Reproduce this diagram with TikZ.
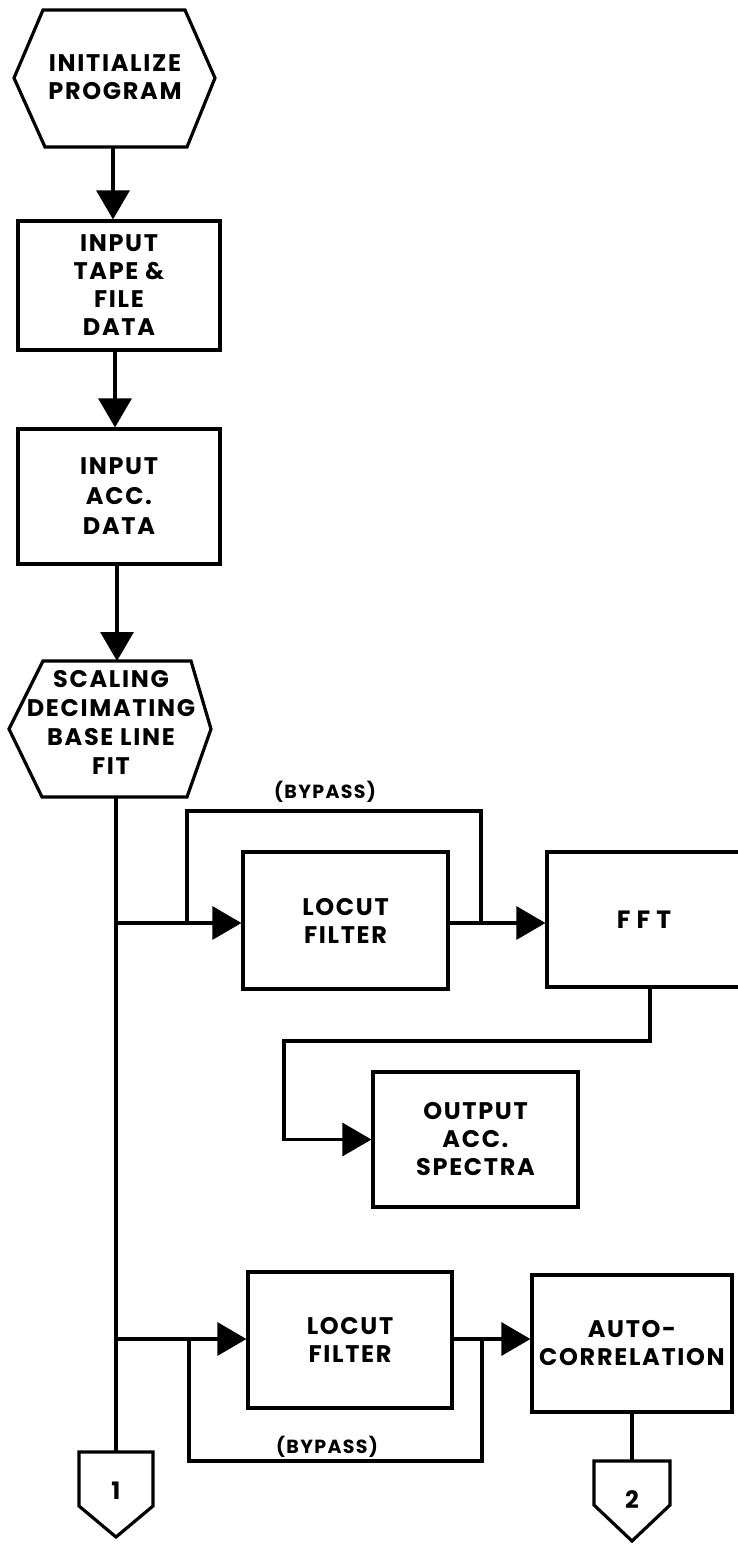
\documentclass[tikz,border=0pt]{standalone}
\usepackage{fontspec}
\usetikzlibrary{arrows.meta}
\newfontfamily\lfont{Poppins}[LetterSpace=7]
\newfontfamily\lfontwide{Poppins}[LetterSpace=24]
\begin{document}
\begin{tikzpicture}[x=1pt,y=-1pt,line width=3.2pt,line join=miter,
  lbl/.style={font=\lfont\bfseries\fontsize{24}{28}\selectfont,align=center,inner sep=0pt},
  box/.style={draw,rectangle,lbl},
  small/.style={font=\lfont\bfseries\fontsize{19}{22}\selectfont,inner sep=0pt},
  arr/.style={-{Triangle[length=29pt,width=33pt]}}]
\path[use as bounding box] (0,0) rectangle (738,1544);
\clip (0,0) rectangle (738,1544);
% start hexagon
\node[lbl] (h1) at (115,77) {INITIALIZE\\PROGRAM};
\draw (43,10) -- (185,10) -- (215,78) -- (187,147) -- (45,147) -- (14,78) -- cycle;
\coordinate (h1b) at (113,147);
% boxes
\node[box,minimum width=202pt,minimum height=129pt] (b2) at (119,285.5) {INPUT\\TAPE \&\\FILE\\DATA};
\node[box,minimum width=202pt,minimum height=135pt,font=\lfont\bfseries\fontsize{24}{30}\selectfont] (b3) at (119,496.5) {INPUT\\ACC.\\DATA};
% scaling hexagon
\node[lbl,font=\lfont\bfseries\fontsize{24}{29}\selectfont] (h2) at (111,722) {SCALING\\DECIMATING\\BASE LINE\\FIT};
\draw (43,661) -- (191,661) -- (211,729) -- (187,797) -- (42,797) -- (9,729) -- cycle;
\coordinate (h2t) at (117,661);
\coordinate (h2b) at (116,797);
% upper branch
\node[box,minimum width=205pt,minimum height=137pt] (lc1) at (345.5,920.5) {LOCUT\\FILTER};
\node[draw,rectangle,inner sep=0pt,minimum width=200pt,minimum height=135pt,font=\lfontwide\fontsize{25}{28}\selectfont] (fft) at (647,919.5) {\textbf{FFT}};
\node[box,minimum width=205pt,minimum height=135pt] (out) at (475.5,1139.5) {OUTPUT\\ACC.\\SPECTRA};
% lower branch
\node[box,minimum width=204pt,minimum height=136pt] (lc2) at (350,1340) {LOCUT\\FILTER};
\node[box,minimum width=200pt,minimum height=137pt] (auto) at (632,1343.5) {AUTO-\\CORRELATION};
% off-page connectors
\node[lbl] (c1) at (116,1491) {1};
\draw (79,1452) -- (153,1452) -- (153,1506) -- (116,1537) -- (79,1506) -- cycle;
\coordinate (c1t) at (116,1452);
\node[lbl] (c2) at (632,1500) {2};
\draw (594,1461) -- (670,1461) -- (670,1505) -- (632,1541) -- (594,1505) -- cycle;
\coordinate (c2t) at (632,1461);
% bypass labels
\node[small] (bp1) at (325,792) {(BYPASS)};
\node[small] (bp2) at (327,1447) {(BYPASS)};
% connectors
\draw[arr] (h1b) -- (h1b |- b2.north);
\coordinate (b2b) at (115,350);
\draw[arr] (b2b) -- (b2b |- b3.north);
\coordinate (b3b) at (117,564);
\draw[arr] (b3b) -- (h2t);
\draw (h2b) -- (c1t);
\coordinate (j1) at (116,923);
\draw[arr] (j1) -- (j1 -| lc1.west);
\coordinate (bl1) at (187,923);
\coordinate (br1) at (481,923);
\draw (bl1) -- ++(0,-112) -| (br1);
\draw[arr] (lc1.east |- j1) -- (j1 -| fft.west);
\draw[arr] ([xshift=3pt]fft.south) |- (284,1041) |- (out.west);
\coordinate (j2) at (116,1339);
\draw[arr] (j2) -- (j2 -| lc2.west);
\coordinate (bl2) at (189,1339);
\coordinate (br2) at (482,1339);
\draw (bl2) -- ++(0,122) -| (br2);
\draw[arr] (lc2.east |- j2) -- (j2 -| auto.west);
\draw (auto.south) -- (c2t);
\end{tikzpicture}
\end{document}
